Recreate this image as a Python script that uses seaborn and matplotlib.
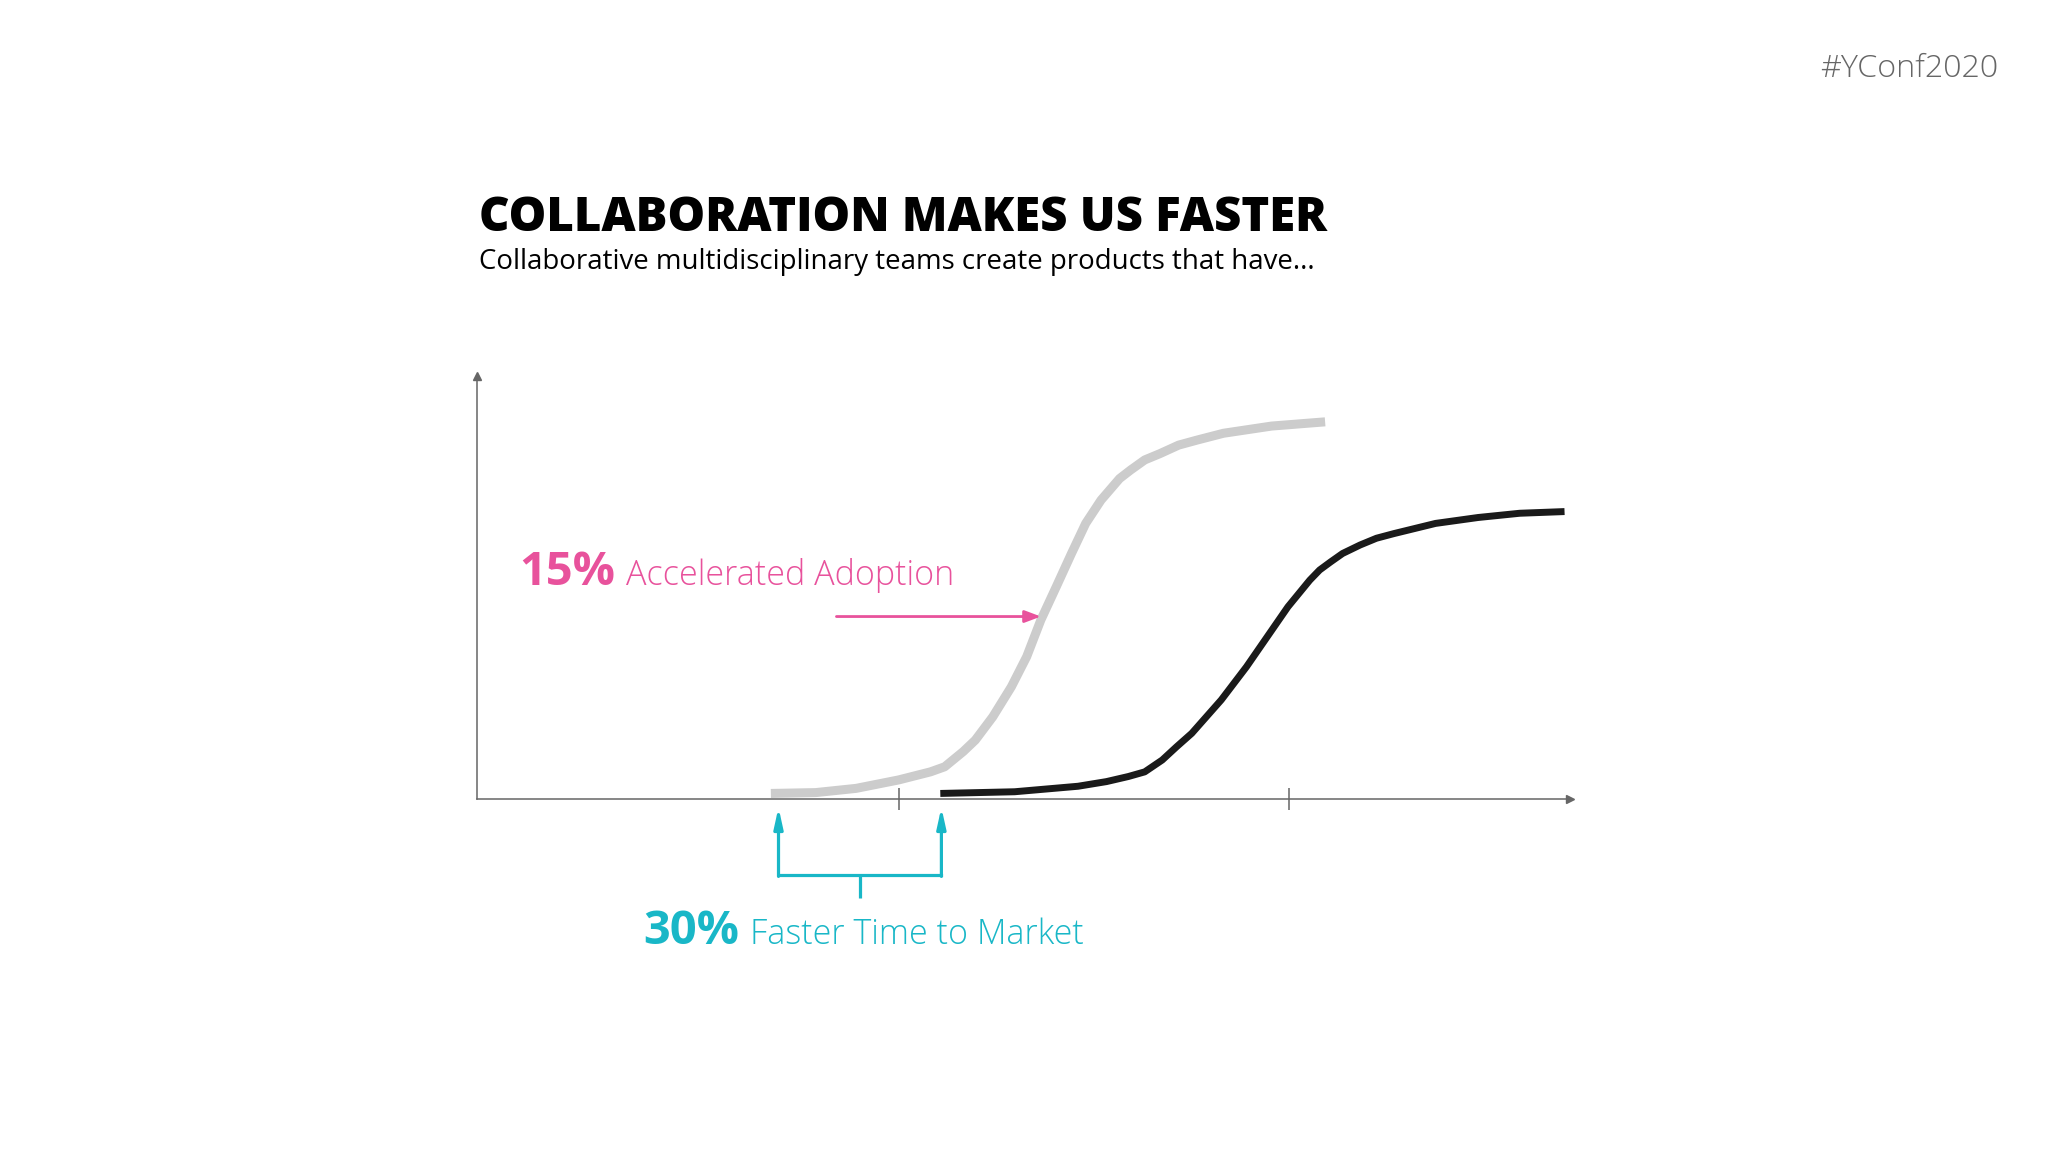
import matplotlib
matplotlib.use("Agg")

import matplotlib.pyplot as plt
import seaborn as sns
import pandas as pd

# adoption curves (x: time, y: adoption)
collab_x = [26.9, 31.0, 34.7, 38.6, 41.5, 42.8, 44.5, 45.6, 47.2, 48.9, 50.3, 51.6, 53.0, 54.4,
            55.7, 57.1, 58.8, 59.8, 61.1, 62.5, 64.2, 65.9, 68.3, 72.7, 77.6]
collab_y = [1.4, 1.6, 2.6, 4.6, 6.5, 7.7, 11.3, 14.0, 19.5, 26.6, 33.7, 42.4, 50.2, 58.1,
            65.2, 70.7, 75.8, 77.8, 80.2, 81.7, 83.7, 84.9, 86.5, 88.2, 89.2]
classic_x = [42.4, 49.2, 55.0, 57.6, 59.6, 61.1, 62.7, 64.0, 65.4, 68.1, 70.4, 72.3, 74.2,
             76.2, 77.1, 78.1, 79.2, 80.8, 82.3, 83.9, 87.7, 91.6, 95.4, 99.5]
classic_y = [1.4, 1.8, 3.1, 4.2, 5.4, 6.5, 9.3, 12.4, 15.6, 23.5, 31.3, 38.4, 45.5,
             51.8, 54.2, 56.1, 58.1, 60.1, 61.7, 62.8, 65.2, 66.6, 67.6, 68.0]
tick_x = [38.6, 74.3]

title = "COLLABORATION MAKES US FASTER"
subtitle = "Collaborative multidisciplinary teams create products that have..."
tag = "#YConf2020"

PINK = "#e8529c"
CYAN = "#19b7c7"
AXIS = "#666666"

sns.set_theme(style="white")
plt.rcParams["font.family"] = ["Open Sans", "DejaVu Sans"]

fig = plt.figure(figsize=(20.48, 11.52), dpi=100)
fig.patch.set_facecolor("white")
ax = fig.add_axes([0.2328, 0.3061, 0.5338, 0.3674])
ax.set_facecolor("none")

sns.lineplot(x=collab_x, y=collab_y, ax=ax, color="#cccccc", linewidth=6.5,
             solid_capstyle="butt", solid_joinstyle="round", sort=False)
sns.lineplot(x=classic_x, y=classic_y, ax=ax, color="#1a1a1a", linewidth=5.0,
             solid_capstyle="butt", solid_joinstyle="round", sort=False)

ax.set_xlim(0, 100)
ax.set_ylim(0, 100)
for side in ["top", "right"]:
    ax.spines[side].set_visible(False)
for side in ["left", "bottom"]:
    ax.spines[side].set_color(AXIS)
    ax.spines[side].set_linewidth(1.1)
ax.plot(1, 0, ">", color=AXIS, markersize=6, transform=ax.transAxes, clip_on=False)
ax.plot(0, 1, "^", color=AXIS, markersize=6, transform=ax.transAxes, clip_on=False)
ax.set_xticks(tick_x)
ax.set_xticklabels([])
ax.set_yticks([])
ax.tick_params(axis="x", direction="inout", length=16, width=1.1, color=AXIS, bottom=True)

# pink annotation
ax.annotate("", xy=(51.6, 43.2), xytext=(32.9, 43.2),
            arrowprops=dict(arrowstyle="-|>,head_length=0.8,head_width=0.3", color=PINK,
                            lw=2.0, shrinkA=0, shrinkB=0))
t1 = ax.text(3.9, 50.6, "15%", color=PINK, fontsize=33.8, fontweight="bold",
             va="baseline", ha="left")

# cyan bracket
for bx in [27.6, 42.5]:
    ax.annotate("", xy=(bx, -1.9), xytext=(bx, -18.2), annotation_clip=False,
                arrowprops=dict(arrowstyle="-|>,head_length=1.0,head_width=0.22",
                                color=CYAN, lw=2.3, shrinkA=0, shrinkB=0))
ax.plot([27.6, 42.5], [-17.9, -17.9], color=CYAN, lw=2.3, clip_on=False, solid_capstyle="projecting")
ax.plot([35.1, 35.1], [-17.9, -23.3], color=CYAN, lw=2.3, clip_on=False, solid_capstyle="butt")
t2 = ax.text(15.2, -34.2, "30%", color=CYAN, fontsize=33.8, fontweight="bold",
             va="baseline", ha="left")

fig.canvas.draw()
inv = ax.transData.inverted()
for t, word, col in [(t1, "Accelerated Adoption", PINK), (t2, "Faster Time to Market", CYAN)]:
    bb = t.get_window_extent()
    x_end = inv.transform((bb.x1 + 11, bb.y0))[0]
    ax.text(x_end, t.get_position()[1], word, color=col, fontsize=24.6,
            fontweight="light", va="baseline", ha="left")

fig.text(0.234, 0.7993, title, fontsize=34, fontweight="heavy", color="black",
         ha="left", va="baseline")
fig.text(0.234, 0.7664, subtitle, fontsize=19.9, color="black", ha="left", va="baseline")
fig.text(0.9758, 0.9335, tag, fontsize=23.2, color="#666666", fontweight="light",
         ha="right", va="baseline")

fig.savefig("out.png", dpi=100, facecolor="white")
